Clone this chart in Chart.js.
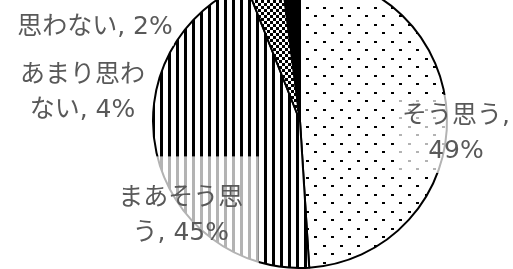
<!DOCTYPE html>
<html>
<head>
<meta charset="utf-8">
<script src="https://cdn.jsdelivr.net/npm/chart.js@4"></script>
<style>
  html, body { margin: 0; padding: 0; background: #fff; overflow: hidden; }
  #wrap { position: absolute; left: 0; top: -27px; width: 513px; height: 296px; }
</style>
</head>
<body>
<div id="wrap"><canvas id="pieChart"></canvas></div>
<script>
// data
const categories = ['そう思う', 'まあそう思う', 'あまり思わない', '思わない'];
const shares = [49, 45, 4, 2];
const labelLines = [
    ['そう思う,', '49%'],
    ['まあそう思', 'う, 45%'],
    ['あまり思わ', 'ない, 4%'],
    ['思わない, 2%']
];

// label placement relative to the pie centre, in radius units, plus box size
const labelStyle = [
    { dx: 1.061, dy: 0.088, w: 124, h: 78 },
    { dx: -0.811, dy: 0.649, w: 156, h: 120 },
    { dx: -1.480, dy: -0.189, w: 130, h: 78 },
    { dx: -1.395, dy: -0.635, w: 158, h: 36 }
];

function makePattern(w, h, draw) {
    const c = document.createElement('canvas');
    c.width = w; c.height = h;
    const g = c.getContext('2d');
    g.fillStyle = '#fff';
    g.fillRect(0, 0, w, h);
    g.fillStyle = '#000';
    draw(g);
    return g.createPattern(c, 'repeat');
}

const dots = makePattern(17, 17, g => { g.fillRect(0, 0, 3, 2); g.fillRect(8, 8, 3, 2); });
const stripes = makePattern(8, 1, g => { g.fillRect(0, 0, 3, 1); });
const checks = makePattern(6, 6, g => { g.fillRect(0, 0, 3, 3); g.fillRect(3, 3, 3, 3); });

const labelPlugin = {
    id: 'boxLabels',
    afterDatasetsDraw(chart) {
        const ctx = chart.ctx;
        const arcs = chart.getDatasetMeta(0).data;
        ctx.save();
        ctx.font = '25px "DejaVu Sans", "Noto Sans CJK JP", sans-serif';
        ctx.textAlign = 'center';
        ctx.textBaseline = 'middle';
        arcs.forEach((arc, i) => {
            const s = labelStyle[i];
            const r = arc.outerRadius;
            const x = arc.x + s.dx * r;
            const y = arc.y + s.dy * r;
            ctx.fillStyle = 'rgba(255,255,255,0.7)';
            ctx.fillRect(x - s.w / 2, y - s.h / 2, s.w, s.h);
            ctx.fillStyle = '#595959';
            const lines = labelLines[i];
            const lh = 35;
            lines.forEach((t, k) => {
                ctx.fillText(t, x, y + (k - (lines.length - 1) / 2) * lh);
            });
        });
        ctx.restore();
    }
};

new Chart(document.getElementById('pieChart'), {
    type: 'pie',
    data: {
        labels: categories,
        datasets: [{
            data: shares,
            backgroundColor: [dots, stripes, checks, '#000'],
            borderColor: '#000',
            borderWidth: 2
        }]
    },
    options: {
        responsive: true,
        maintainAspectRatio: false,
        animation: false,
        events: [],
        radius: 147,
        layout: { padding: { left: 87 } },
        plugins: { legend: { display: false }, tooltip: { enabled: false } }
    },
    plugins: [labelPlugin]
});
</script>
</body>
</html>
